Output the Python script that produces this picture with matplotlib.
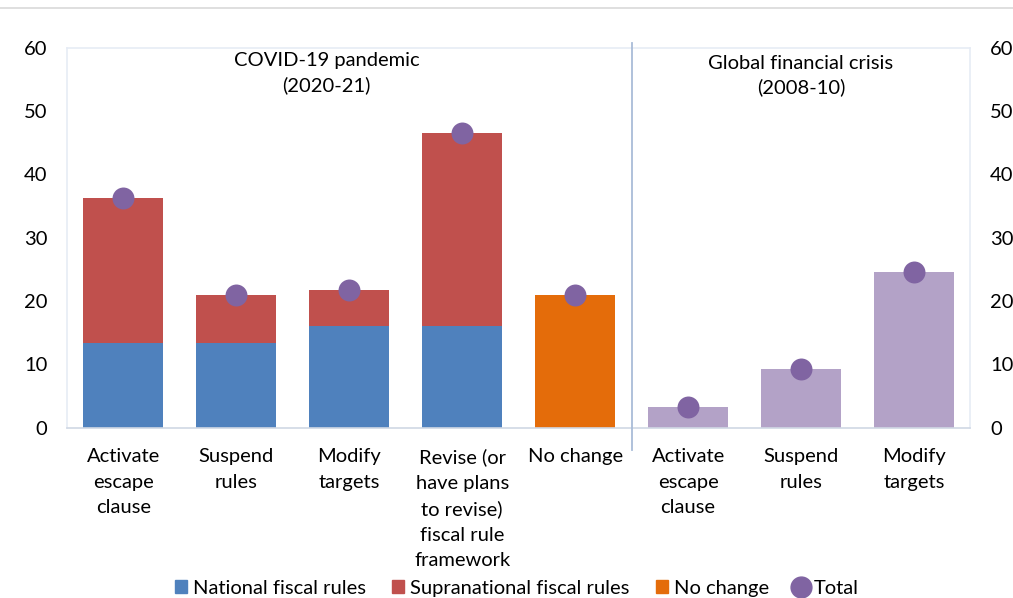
import numpy as np
import matplotlib
matplotlib.use("Agg")
import matplotlib.pyplot as plt
from matplotlib.lines import Line2D
from matplotlib.patches import Patch

plt.rcParams['font.family'] = ['Lato', 'DejaVu Sans']

covid_cats = ["Activate\nescape\nclause", "Suspend\nrules", "Modify\ntargets",
              "Revise (or\nhave plans\nto revise)\nfiscal rule\nframework"]
nochange_cat = "No change"
gfc_cats = ["Activate\nescape\nclause", "Suspend\nrules", "Modify\ntargets"]

national = [13.4, 13.4, 16.1, 16.1]
supranational = [22.8, 7.5, 5.7, 30.5]
nochange = 20.9
gfc = [3.3, 9.3, 24.6]

BLUE = "#4F81BD"; RED = "#C0504D"; ORANGE = "#E46C0A"; LPURP = "#B3A2C7"; PURP = "#8064A2"
FS = 14.5

fig = plt.figure(figsize=(10.13, 5.98), dpi=100)
ax = fig.add_axes([0.066, 0.285, 0.892, 0.635])

xc = np.arange(4); xn = 4; xg = np.arange(5, 8)
w = 0.71
ax.bar(xc, national, w, color=BLUE, zorder=2)
ax.bar(xc, supranational, w, bottom=national, color=RED, zorder=2)
ax.bar(xn, nochange, w, color=ORANGE, zorder=2)
ax.bar(xg, gfc, w, color=LPURP, zorder=2)
tot_x = list(xc) + [xn] + list(xg)
tot_y = [a + b for a, b in zip(national, supranational)] + [nochange] + gfc
ax.scatter(tot_x, tot_y, s=250, color=PURP, zorder=3, linewidths=0)

ax.set_xlim(-0.5, 7.5); ax.set_ylim(0, 60)
ax.set_yticks(range(0, 61, 10))
ax.set_xticks(tot_x)
ax.set_xticklabels(covid_cats + [nochange_cat] + gfc_cats, fontsize=FS, va="top", linespacing=1.6)
ax.tick_params(length=0, labelsize=FS, pad=14)
ax.tick_params(axis="x", pad=15)
for s in ax.spines.values():
    s.set_color("#E6ECF5"); s.set_linewidth(1.2)
ax.spines["bottom"].set_color("#D0D8E4")

ax2 = ax.twinx()
ax2.set_ylim(0, 60); ax2.set_yticks(range(0, 61, 10))
ax2.tick_params(length=0, labelsize=FS, pad=14)
for s in ax2.spines.values():
    s.set_visible(False)

# separator between episodes
ax.plot([4.5, 4.5], [-3.5, 60.7], color="#A9BCD8", lw=1.3, clip_on=False, zorder=4)

ax.text(1.8, 59.3, "COVID-19 pandemic\n(2020-21)", ha="center", va="top", fontsize=FS, linespacing=1.45)
ax.text(6.0, 58.9, "Global financial crisis\n(2008-10)", ha="center", va="top", fontsize=FS, linespacing=1.45)

# faint rule at top
fig.add_artist(Line2D([0.0, 1.0], [0.986, 0.986], color="#D9D9D9", lw=1.2))

handles = [Patch(color=BLUE, label="National fiscal rules"),
           Patch(color=RED, label="Supranational fiscal rules"),
           Patch(color=ORANGE, label="No change"),
           Line2D([], [], marker="o", ls="", color=PURP, markersize=15, label="Total")]
fig.legend(handles=handles, loc="lower center", bbox_to_anchor=(0.51, -0.028), ncol=4, frameon=False,
           fontsize=FS, handlelength=0.6, handleheight=0.6, handletextpad=0.3, columnspacing=1.3)

fig.savefig("out.png", dpi=100)
